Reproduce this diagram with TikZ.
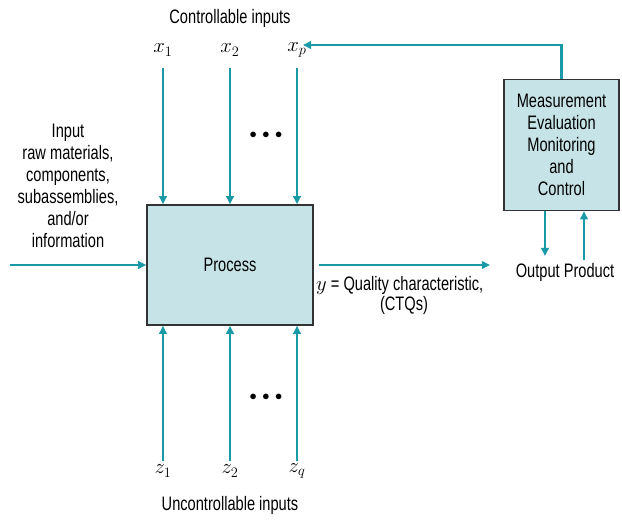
\documentclass[tikz,border=0pt]{standalone}
\usepackage{fontspec}
\setmainfont[FakeStretch=0.75]{Liberation Sans}
\usetikzlibrary{arrows.meta}
\definecolor{flowc}{HTML}{1A9AA6}
\definecolor{boxfill}{HTML}{C6E4E8}
\definecolor{boxline}{HTML}{333333}
\tikzset{
  flow/.style={draw=flowc, line width=2.6pt, -{Triangle[length=8pt,width=7.5pt]}},
  block/.style={draw=boxline, fill=boxfill, line width=1.6pt, align=center},
  lbl/.style={align=center, inner sep=0pt, font=\fontsize{19.5}{22}\selectfont},
  var/.style={inner sep=0pt, font=\fontsize{20}{22}\selectfont},
  dots/.style={inner sep=0pt, font=\fontsize{15}{16}\selectfont}
}
\begin{document}
\begin{tikzpicture}[x=1pt,y=-1pt]
\useasboundingbox (0,0) rectangle (622,521);

% main process block
\node[block, minimum width=166pt, minimum height=120pt, lbl] (proc) at (230,265) {Process};

% measurement / control block
\node[block, minimum width=115pt, minimum height=131pt, lbl] (meas) at (561.5,145)
  {Measurement\\Evaluation\\Monitoring\\and\\Control};

% controllable inputs
\node[lbl] (ctitle) at (230,18) {Controllable inputs};
\node[var] (x1) at (163,50) {$x_1$};
\node[var] (x2) at (230,50) {$x_2$};
\node[var] (xp) at (297,50) {$x_p$};
\coordinate (x1s) at (163,68);
\coordinate (x2s) at (230,68);
\coordinate (xps) at (297,68);
\draw[flow] (x1s) -- (x1s |- proc.north);
\draw[flow] (x2s) -- (x2s |- proc.north);
\draw[flow] (xps) -- (xps |- proc.north);
\node[dots] (tdots) at (266,135) {$\bullet\,\bullet\,\bullet$};

% uncontrollable inputs
\node[lbl] (utitle) at (230,505) {Uncontrollable inputs};
\node[var] (z1) at (163,471) {$z_1$};
\node[var] (z2) at (230,471) {$z_2$};
\node[var] (zq) at (297,471) {$z_q$};
\coordinate (z1s) at (163,461);
\coordinate (z2s) at (230,461);
\coordinate (zqs) at (297,461);
\draw[flow] (z1s) -- (z1s |- proc.south);
\draw[flow] (z2s) -- (z2s |- proc.south);
\draw[flow] (zqs) -- (zqs |- proc.south);
\node[dots] (bdots) at (266,397) {$\bullet\,\bullet\,\bullet$};

% raw input
\node[lbl] (inp) at (68,186) {Input\\raw materials,\\components,\\subassemblies,\\and/or\\information};
\coordinate (ins) at (10,265);
\draw[flow] (ins) -- (proc.west |- ins);

% output
\coordinate (outend) at (490,265);
\coordinate (outstart) at (319,265);
\draw[flow] (outstart) -- (outend);
\node[lbl, anchor=west] (qual) at (316,285) {$y$ = Quality characteristic,};
\node[lbl] (ctq) at (404,305) {(CTQs)};

% feedback to controllable inputs
\coordinate (fb) at (303,45);
\draw[flow] (meas.north) |- (fb);

% output product exchange
\node[lbl] (outp) at (565,272) {Output Product};
\coordinate (dn) at (545,256);
\coordinate (up) at (584,260);
\draw[flow] (meas.south -| dn) -- (dn);
\draw[flow] (up) -- (meas.south -| up);
\end{tikzpicture}
\end{document}
